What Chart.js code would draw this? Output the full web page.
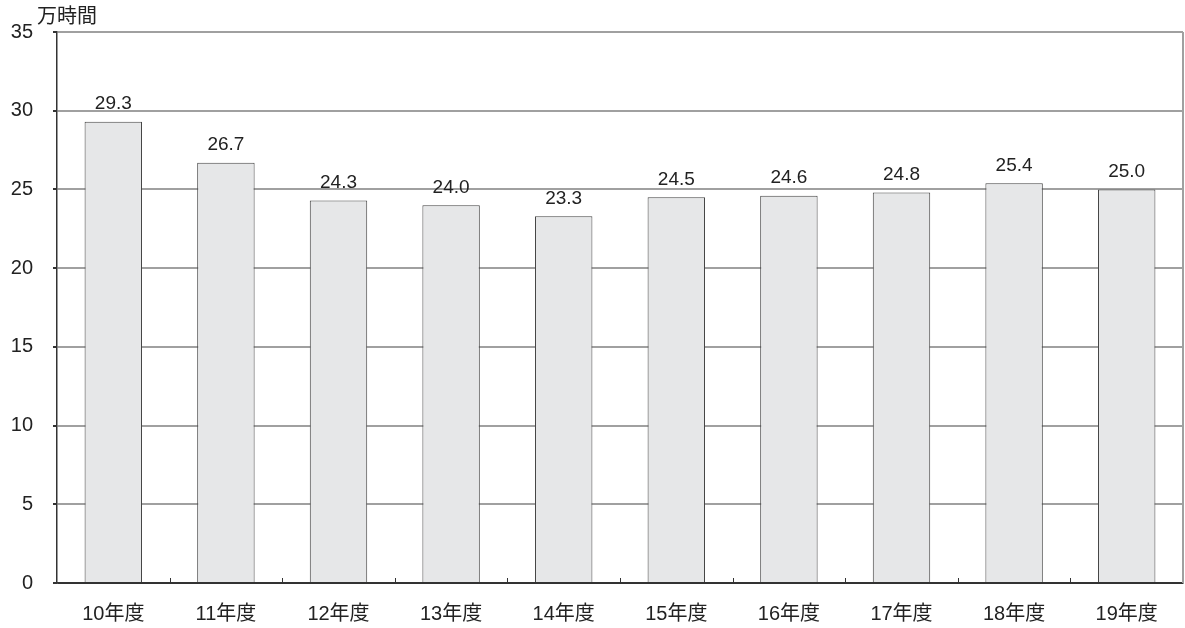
<!DOCTYPE html>
<html>
<head>
<meta charset="utf-8">
<title>年度別時間</title>
<script src="https://cdn.jsdelivr.net/npm/chart.js"></script>
<style>
  html, body { margin: 0; padding: 0; background: #fff; }
  #wrap { width: 1185px; height: 628px; position: relative; }
</style>
</head>
<body>
<div id="wrap"><canvas id="hours"></canvas></div>
<script>
const years = ['10年度', '11年度', '12年度', '13年度', '14年度', '15年度', '16年度', '17年度', '18年度', '19年度'];
const hours = [29.3, 26.7, 24.3, 24.0, 23.3, 24.5, 24.6, 24.8, 25.4, 25.0];
const yTicks = [0, 5, 10, 15, 20, 25, 30, 35];
const unitLabel = '万時間';

const FONT = '"Liberation Sans", Arial, "Noto Sans CJK JP", sans-serif';

// value labels, unit title, inner x ticks and right frame
const extras = {
  id: 'extras',
  afterDatasetsDraw(chart) {
    const ctx = chart.ctx;
    const area = chart.chartArea;
    const x = chart.scales.x;
    const meta = chart.getDatasetMeta(0);
    ctx.save();
    ctx.fillStyle = '#222';
    ctx.font = '19px ' + FONT;
    ctx.textAlign = 'center';
    ctx.textBaseline = 'bottom';
    meta.data.forEach((bar, i) => {
      ctx.fillText(hours[i].toFixed(1), bar.x, bar.y - 8);
    });

    ctx.font = '20px ' + FONT;
    ctx.textAlign = 'left';
    ctx.textBaseline = 'middle';
    ctx.fillText(unitLabel, 37, 17);

    // right frame line
    ctx.strokeStyle = '#a0a0a0';
    ctx.lineWidth = 2;
    ctx.beginPath();
    ctx.moveTo(area.right, area.top);
    ctx.lineTo(area.right, area.bottom);
    ctx.stroke();

    // short ticks between categories, pointing into the plot
    ctx.strokeStyle = '#333';
    ctx.lineWidth = 1;
    for (let i = 1; i < years.length; i++) {
      const px = Math.round((x.getPixelForValue(i - 1) + x.getPixelForValue(i)) / 2) + 0.5;
      ctx.beginPath();
      ctx.moveTo(px, area.bottom);
      ctx.lineTo(px, area.bottom - 5);
      ctx.stroke();
    }
    ctx.restore();
  }
};

new Chart(document.getElementById('hours'), {
  type: 'bar',
  data: {
    labels: years,
    datasets: [{
      data: hours,
      backgroundColor: '#e6e7e8',
      borderColor: '#444',
      borderWidth: 1,
      barPercentage: 0.51,
      categoryPercentage: 1
    }]
  },
  options: {
    responsive: true,
    maintainAspectRatio: false,
    animation: false,
    layout: { padding: { top: 32, right: 2, left: 0, bottom: 0 } },
    plugins: { legend: { display: false }, tooltip: { enabled: false } },
    scales: {
      x: {
        grid: { display: false },
        border: { color: '#333', width: 1.5 },
        ticks: { color: '#222', font: { family: FONT, size: 20 }, padding: 11 },
        afterFit(s) { s.height = 45; }
      },
      y: {
        min: 0,
        max: 35,
        afterBuildTicks(s) { s.ticks = yTicks.map(v => ({ value: v })); },
        grid: {
          color: ctx => ctx.tick && ctx.tick.value === 0 ? '#333' : '#a0a0a0',
          lineWidth: 2,
          tickLength: 4,
          tickColor: '#333'
        },
        border: { color: '#333', width: 1.5 },
        ticks: { color: '#222', font: { family: FONT, size: 20 }, padding: 20 },
        afterFit(s) { s.width = 57; }
      }
    }
  },
  plugins: [extras]
});
</script>
</body>
</html>
